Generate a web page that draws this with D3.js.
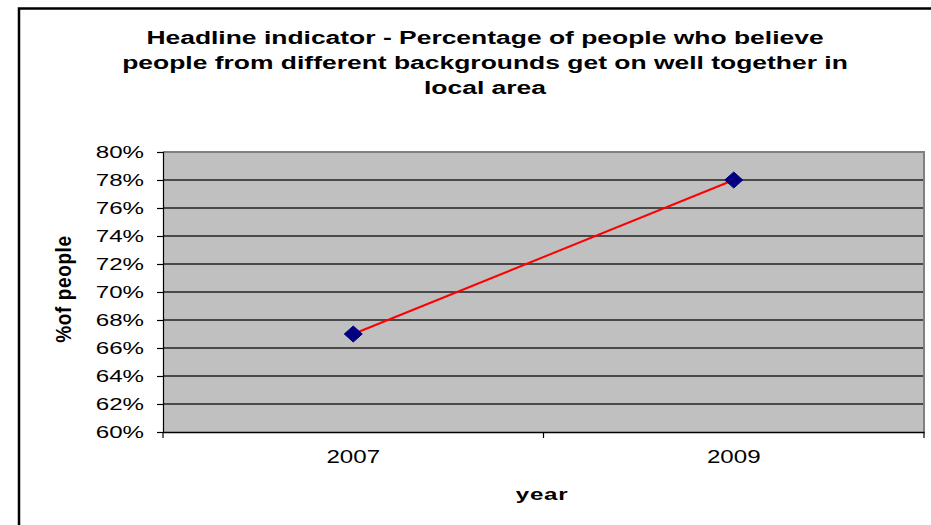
<!DOCTYPE html>
<html>
<head>
<meta charset="utf-8">
<script src="https://cdn.jsdelivr.net/npm/d3@7"></script>
<style>
  html, body { margin: 0; padding: 0; background: #fff; }
  svg { display: block; }
  text { font-family: "Liberation Sans", Arial, sans-serif; fill: #000; }
</style>
</head>
<body>
<svg id="chart" width="931" height="525"></svg>
<script>
// ---- data ----
const years = ["2007", "2009"];
const values = [0.67, 0.78];
const yTicks = [0.60, 0.62, 0.64, 0.66, 0.68, 0.70, 0.72, 0.74, 0.76, 0.78, 0.80];
const titleLines = [
  "Headline indicator - Percentage of people who believe",
  "people from different backgrounds get on well together in",
  "local area"
];
const xTitle = "year";
const yTitle = "%of people";

// ---- layout ----
const plot = { left: 163, top: 152, right: 924, bottom: 432 };
const SX = 1.45; // horizontal stretch of the original rendering

const svg = d3.select("#chart");

// outer chart border
svg.append("rect")
  .attr("x", 19).attr("y", 8.5)
  .attr("width", 940).attr("height", 540)
  .attr("fill", "#fff").attr("stroke", "#000").attr("stroke-width", 2.5);

const x = d3.scaleBand().domain(years).range([plot.left, plot.right]);
const y = d3.scaleLinear().domain([0.60, 0.80]).range([plot.bottom, plot.top]);

// helper: stretched text
function stext(g, tx, ty, str, opts) {
  const grp = g.append("g").attr("transform", `translate(${tx},${ty}) scale(${opts.sx || SX},1)`);
  return grp.append("text")
    .attr("text-anchor", opts.anchor || "middle")
    .attr("font-size", opts.size)
    .attr("font-weight", opts.bold ? "bold" : "normal")
    .attr("letter-spacing", opts.ls || 0)
    .attr("dy", opts.dy || 0)
    .text(str);
}

// plot background
svg.append("rect")
  .attr("x", plot.left).attr("y", plot.top)
  .attr("width", plot.right - plot.left).attr("height", plot.bottom - plot.top)
  .attr("fill", "#C0C0C0");

// gridlines
svg.append("g").selectAll("line")
  .data(yTicks.filter(d => d > 0.60 && d < 0.80))
  .join("line")
  .attr("x1", plot.left).attr("x2", plot.right)
  .attr("y1", d => y(d)).attr("y2", d => y(d))
  .attr("stroke", "#222").attr("stroke-width", 1.4);

// plot border top & right (grey)
svg.append("path")
  .attr("d", `M${plot.left},${plot.top}H${plot.right}V${plot.bottom}`)
  .attr("fill", "none").attr("stroke", "#808080").attr("stroke-width", 2);

// y axis
const yAxis = svg.append("g").attr("transform", `translate(${plot.left},0)`)
  .call(d3.axisLeft(y).tickValues(yTicks).tickSize(6).tickFormat(""));
yAxis.selectAll("path, line").attr("stroke", "#000").attr("stroke-width", 1.2);
yTicks.forEach(t => {
  stext(svg, 144, y(t), d3.format(".0%")(t), { size: 17, anchor: "end", dy: "0.36em", sx: 1.42 });
});

// x axis
const xAxis = svg.append("g").attr("transform", `translate(0,${plot.bottom})`)
  .call(d3.axisBottom(x).tickSize(0).tickFormat(""));
xAxis.select("path").attr("stroke", "#000").attr("stroke-width", 1.5);
const xTickPos = [plot.left, ...years.slice(1).map(d => x(d)), plot.right];
svg.append("g").selectAll("line").data(xTickPos).join("line")
  .attr("x1", d => d).attr("x2", d => d)
  .attr("y1", plot.bottom).attr("y2", plot.bottom + 6)
  .attr("stroke", "#000").attr("stroke-width", 1.2);
years.forEach(yr => {
  stext(svg, x(yr) + x.bandwidth() / 2, 463, yr, { size: 18, sx: 1.34 });
});

// line
const pts = years.map((yr, i) => [x(yr) + x.bandwidth() / 2, y(values[i])]);
svg.append("path")
  .attr("d", d3.line()(pts))
  .attr("fill", "none").attr("stroke", "#FF0000").attr("stroke-width", 2);

// markers (diamonds)
svg.append("g").selectAll("path").data(pts).join("path")
  .attr("d", d => `M${d[0]},${d[1] - 8}L${d[0] + 9},${d[1]}L${d[0]},${d[1] + 8}L${d[0] - 9},${d[1]}Z`)
  .attr("fill", "#000080").attr("stroke", "#000080").attr("stroke-width", 1);

// title
titleLines.forEach((t, i) => {
  stext(svg, 485, 44 + i * 25, t, { size: 18, bold: true, ls: 0, sx: 1.47 });
});

// axis titles
stext(svg, 542, 500, xTitle, { size: 17, bold: true, ls: 0.5, sx: 1.42 });
const yt = svg.append("g").attr("transform", `translate(71,289) scale(1.2,1) rotate(-90)`);
yt.append("text").attr("text-anchor", "middle").attr("font-size", 19)
  .attr("font-weight", "bold").attr("letter-spacing", 0.6).text(yTitle);
</script>
</body>
</html>
